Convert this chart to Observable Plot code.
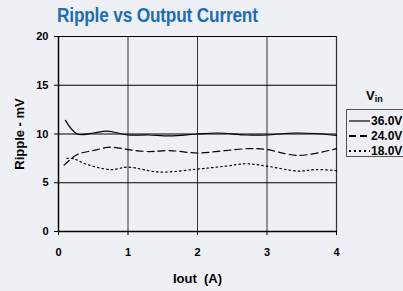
<!DOCTYPE html>
<html><head>
<meta charset="utf-8">
<script src="https://cdn.jsdelivr.net/npm/d3@7"></script>
<script src="https://cdn.jsdelivr.net/npm/@observablehq/plot@0.6"></script>
<style>
body{margin:0;background:#eff0f5;}
#wrap{position:relative;width:403px;height:291px;font-family:"Liberation Sans",Arial,sans-serif;overflow:hidden;}
#title{position:absolute;left:57px;top:3px;font-family:"Liberation Sans",Arial,sans-serif;font-weight:bold;font-size:21px;color:#1a6db8;white-space:nowrap;transform:scaleX(0.82);transform-origin:0 0;letter-spacing:-0.2px;}
#vin{position:absolute;left:366px;top:88px;font-weight:bold;font-size:13px;color:#000;}
#vin sub{font-size:9px;vertical-align:baseline;position:relative;top:2px;}
#legend{position:absolute;left:346px;top:109px;width:60px;height:48px;border:1px solid #555;box-sizing:border-box;}
.item{position:absolute;left:2px;height:14px;font-weight:bold;font-size:12px;white-space:nowrap;}
.item svg{vertical-align:middle;margin-right:1px;}
.item span{vertical-align:middle;}
</style>
</head><body>
<div id="wrap">
<div id="title">Ripple vs Output Current</div>
<div id="chart"></div>
<div id="vin">V<sub>in</sub></div>
<div id="legend"></div>
</div>
<script>
const seriesNames = ["36.0V", "24.0V", "18.0V"];
const iout36 = [0.1, 0.27, 0.5, 0.7, 1.0, 1.3, 1.6, 2.0, 2.3, 2.7, 3.0, 3.4, 3.7, 4.0];
const ripple36 = [11.4, 10.0, 10.1, 10.3, 9.9, 9.9, 9.8, 10.0, 10.1, 9.9, 9.9, 10.1, 10.05, 9.85];
const iout24 = [0.08, 0.27, 0.5, 0.75, 1.0, 1.3, 1.6, 2.0, 2.4, 2.75, 3.0, 3.45, 4.0];
const ripple24 = [6.8, 7.9, 8.3, 8.65, 8.4, 8.2, 8.3, 8.05, 8.3, 8.5, 8.4, 7.8, 8.5];
const iout18 = [0.12, 0.22, 0.4, 0.75, 1.0, 1.45, 2.0, 2.4, 2.7, 3.0, 3.45, 3.7, 4.0];
const ripple18 = [7.5, 7.45, 6.9, 6.35, 6.6, 6.1, 6.4, 6.7, 6.95, 6.7, 6.2, 6.35, 6.25];
const xTicks = [0, 1, 2, 3, 4];
const yTicks = [0, 5, 10, 15, 20];
const dashes = {"36.0V": null, "24.0V": "7,4", "18.0V": "1.6,3"};

const rows = [];
iout36.forEach((x, i) => rows.push({s: "36.0V", x, y: ripple36[i]}));
iout24.forEach((x, i) => rows.push({s: "24.0V", x, y: ripple24[i]}));
iout18.forEach((x, i) => rows.push({s: "18.0V", x, y: ripple18[i]}));

const lineMarks = seriesNames.map(s => Plot.line(rows.filter(d => d.s === s), {
  x: "x", y: "y", stroke: "#000", strokeWidth: 1.2,
  strokeDasharray: dashes[s], curve: "catmull-rom"
}));

const chart = Plot.plot({
  width: 403, height: 291,
  marginLeft: 58, marginRight: 67, marginTop: 36, marginBottom: 60,
  style: {background: "transparent", fontFamily: "Liberation Sans, Arial, sans-serif", fontWeight: "bold", fontSize: "11px", color: "#000"},
  x: {domain: [0, 4], ticks: xTicks, tickFormat: d3.format("d"), tickSize: 4, tickPadding: 13, label: "Iout\u00a0\u00a0(A)", labelAnchor: "center", labelArrow: "none", labelOffset: 51},
  y: {domain: [0, 20], ticks: yTicks, tickFormat: d3.format("d"), tickSize: 4, tickPadding: 6, label: "Ripple - mV", labelAnchor: "center", labelArrow: "none", labelOffset: 44},
  marks: [
    Plot.ruleX(xTicks.slice(1, 4), {stroke: "#333", strokeWidth: 1}),
    Plot.ruleY(yTicks.slice(1, 4), {stroke: "#000", strokeWidth: 1}),
    Plot.ruleY([20], {stroke: "#000", strokeWidth: 1.2}),
    Plot.ruleX([4], {stroke: "#333", strokeWidth: 1.2}),
    ...lineMarks,
    Plot.ruleY([0], {stroke: "#000", strokeWidth: 1.5}),
    Plot.ruleX([0], {stroke: "#000", strokeWidth: 1.5})
  ]
});
chart.querySelectorAll('[aria-label="x-axis label"] text, [aria-label="y-axis label"] text').forEach(t => t.setAttribute("font-size", "13px"));
chart.querySelectorAll('[aria-label$="tick label"]').forEach(g => g.setAttribute("fill", "#000"));
document.getElementById("chart").appendChild(chart);

const leg = document.getElementById("legend");
seriesNames.forEach((s, i) => {
  const div = document.createElement("div");
  div.className = "item";
  div.style.top = (3 + i * 15) + "px";
  const dash = dashes[s] ? `stroke-dasharray="${s === "24.0V" ? "7,4" : "2,3"}"` : "";
  div.innerHTML = `<svg width="21" height="6"><line x1="0" y1="3" x2="21" y2="3" stroke="#000" stroke-width="${s === "36.0V" ? 1.2 : 2}" ${dash}/></svg><span>${s}</span>`;
  leg.appendChild(div);
});
</script>
</body></html>
